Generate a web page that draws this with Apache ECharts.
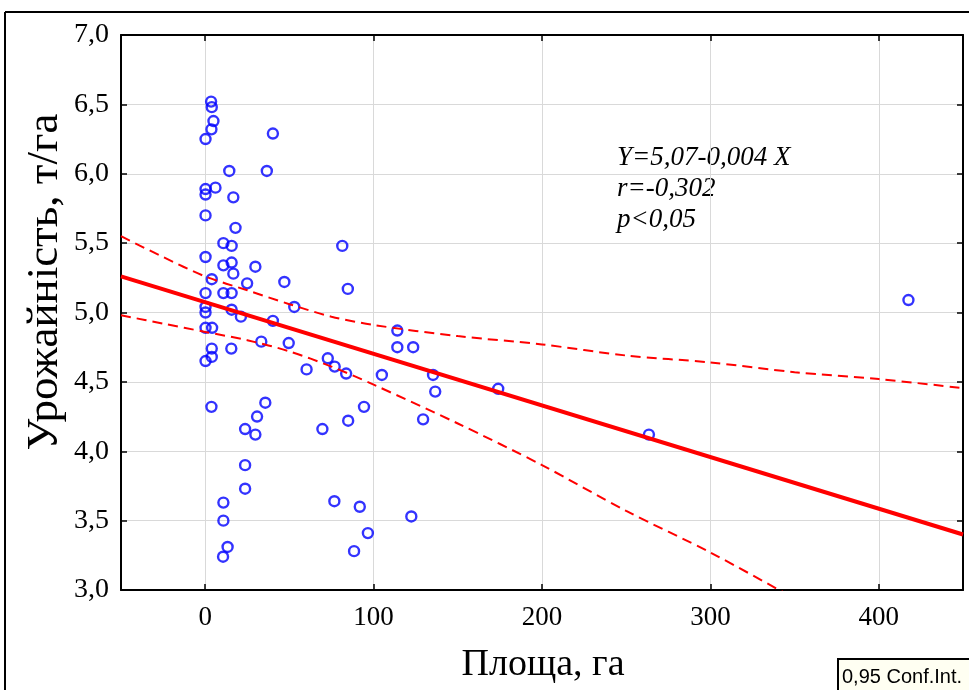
<!DOCTYPE html>
<html>
<head>
<meta charset="utf-8">
<script src="https://cdn.jsdelivr.net/npm/echarts@6/dist/echarts.min.js"></script>
<style>
html,body{margin:0;padding:0;background:#fff;}
#chart{width:969px;height:690px;}
</style>
</head>
<body>
<div id="chart"></div>
<script>
// Scatter data: area (ha) and yield (t/ha)
const areaHa = [3.5, 3.9, 4.9, 3.7, 0.2, 40.2, 14.3, 36.6, 0.2, 6.1, 0.2, 16.7, 0.2, 18.0, 10.8, 15.7, 0.2, 10.8, 15.7, 29.8,
  16.7, 3.9, 47.0, 24.9, 0.2, 10.8, 15.7, 0.2, 0.2, 15.7, 52.9, 21.2, 40.2, 0.2, 4.1, 33.3, 49.6, 3.9, 15.5, 3.9,
  0.2, 60.2, 72.8, 76.9, 83.7, 104.9, 135.3, 136.6, 114.1, 114.1, 123.5, 81.4, 84.7, 94.3, 84.9, 129.4, 69.6, 3.7, 35.7, 30.8,
  23.7, 29.8, 23.7, 23.7, 10.8, 10.8, 13.3, 10.6, 76.7, 91.8, 122.4, 96.6, 88.4, 174.0, 263.5, 417.6];
const yieldT = [6.52, 6.48, 6.38, 6.32, 6.25, 6.29, 6.02, 6.02, 5.89, 5.90, 5.85, 5.83, 5.70, 5.61, 5.50, 5.48, 5.40, 5.34, 5.36, 5.33,
  5.28, 5.24, 5.22, 5.21, 5.14, 5.14, 5.14, 5.04, 5.00, 5.02, 5.04, 4.97, 4.94, 4.89, 4.89, 4.79, 4.78, 4.74, 4.74, 4.68,
  4.65, 4.59, 4.67, 4.61, 4.56, 4.55, 4.55, 4.43, 4.87, 4.75, 4.75, 5.48, 5.17, 4.32, 4.22, 4.23, 4.16, 4.32, 4.35, 4.25,
  4.16, 4.12, 3.90, 3.73, 3.63, 3.50, 3.31, 3.24, 3.64, 3.60, 3.53, 3.41, 3.28, 4.45, 4.12, 5.09];

// Regression line endpoints
const regX = [-50, 450];
const regY = [5.26, 3.40];

// 0.95 confidence band
const bandX = [-50, -25, 0, 25, 50, 75, 100, 150, 200, 250, 300, 350, 400, 450];
const bandUpper = [5.55, 5.40, 5.26, 5.16, 5.06, 4.97, 4.91, 4.83, 4.77, 4.69, 4.64, 4.57, 4.52, 4.455];
const bandLower = [4.98, 4.92, 4.86, 4.80, 4.72, 4.61, 4.48, 4.20, 3.90, 3.57, 3.27, 2.94, 2.62, 2.31];

// Annotation texts
const annotation = ['Y=5,07-0,004 X', 'r=-0,302', 'p<0,05'];
const xTitle = 'Площа, га';
const yTitle = 'Урожайність, т/га';
const legendText = '0,95 Conf.Int.';

const zip = (a, b) => a.map((v, i) => [v, b[i]]);
const serif = 'Liberation Serif';

const chart = echarts.init(document.getElementById('chart'), null, {renderer: 'canvas'});

const axisLine = {show: true, onZero: false, lineStyle: {color: '#000', width: 2}};
const axisTick = {show: true, inside: true, length: 6, lineStyle: {color: '#000', width: 1.5}};

const option = {
  animation: false,
  backgroundColor: '#fff',
  grid: {left: 121, top: 35, right: 6, bottom: 100, containLabel: false},
  xAxis: [
    {
      type: 'value', min: -50, max: 450, splitNumber: 5, position: 'bottom',
      axisLine: axisLine, axisTick: axisTick,
      axisLabel: {
        formatter: v => (Math.abs(v % 100) < 1e-9 ? String(v) : ''),
        fontFamily: serif, fontSize: 27, color: '#000', margin: 14
      },
      splitLine: {show: true, lineStyle: {color: '#d9d9d9', width: 1}}
    },
    {
      type: 'value', min: -50, max: 450, splitNumber: 5, position: 'top',
      axisLine: axisLine, axisTick: axisTick,
      axisLabel: {show: false}, splitLine: {show: false}
    }
  ],
  yAxis: [
    {
      type: 'value', min: 3, max: 7, interval: 0.5, position: 'left',
      axisLine: axisLine, axisTick: axisTick,
      axisLabel: {
        formatter: v => v.toFixed(1).replace('.', ','),
        fontFamily: serif, fontSize: 28, color: '#000', margin: 12
      },
      splitLine: {show: true, lineStyle: {color: '#d9d9d9', width: 1}}
    },
    {
      type: 'value', min: 3, max: 7, interval: 0.5, position: 'right',
      axisLine: axisLine, axisTick: axisTick,
      axisLabel: {show: false}, splitLine: {show: false}
    }
  ],
  series: [
    {
      type: 'scatter', xAxisIndex: 0, yAxisIndex: 0,
      data: zip(areaHa, yieldT),
      symbol: 'circle', symbolSize: 10,
      itemStyle: {color: 'rgba(255,255,255,0)', borderColor: '#0000ff', borderWidth: 2.4}
    },
    {
      type: 'line', xAxisIndex: 0, yAxisIndex: 0,
      data: zip(regX, regY), symbol: 'none', clip: true,
      lineStyle: {color: '#ff0000', width: 4}
    },
    {
      type: 'line', xAxisIndex: 0, yAxisIndex: 0,
      data: zip(bandX, bandUpper), symbol: 'none', smooth: 0.3, clip: true,
      lineStyle: {color: '#ff0000', width: 2, type: [10, 6]}
    },
    {
      type: 'line', xAxisIndex: 0, yAxisIndex: 0,
      data: zip(bandX, bandLower), symbol: 'none', smooth: 0.3, clip: true,
      lineStyle: {color: '#ff0000', width: 2, type: [10, 6]}
    }
  ],
  graphic: [
    // outer frame
    {type: 'line', shape: {x1: 5, y1: 12, x2: 969, y2: 12}, style: {stroke: '#000', lineWidth: 2}, silent: true},
    {type: 'line', shape: {x1: 5, y1: 12, x2: 5, y2: 690}, style: {stroke: '#000', lineWidth: 2}, silent: true},
    // axis titles
    {type: 'text', x: 543, y: 665, style: {text: xTitle, font: '38px "Liberation Serif"', fill: '#000', align: 'center', verticalAlign: 'middle'}},
    {type: 'text', x: 45, y: 282, rotation: Math.PI / 2, style: {text: yTitle, font: '45px "Liberation Serif"', fill: '#000', align: 'center', verticalAlign: 'middle'}},
    // annotation
    {type: 'text', left: 617, top: 144, style: {text: annotation[0], font: 'italic 27px "Liberation Serif"', fill: '#000'}},
    {type: 'text', left: 617, top: 175, style: {text: annotation[1], font: 'italic 27px "Liberation Serif"', fill: '#000'}},
    {type: 'text', left: 617, top: 206, style: {text: annotation[2], font: 'italic 27px "Liberation Serif"', fill: '#000'}},
    // legend box
    {type: 'rect', shape: {x: 838, y: 659, width: 140, height: 40},
     style: {fill: '#fffff2', stroke: '#000', lineWidth: 2}, silent: true},
    {type: 'text', x: 842, y: 677, style: {text: legendText, font: '20px "Liberation Sans"', fill: '#000', verticalAlign: 'middle'}}
  ]
};

chart.setOption(option);
</script>
</body>
</html>
